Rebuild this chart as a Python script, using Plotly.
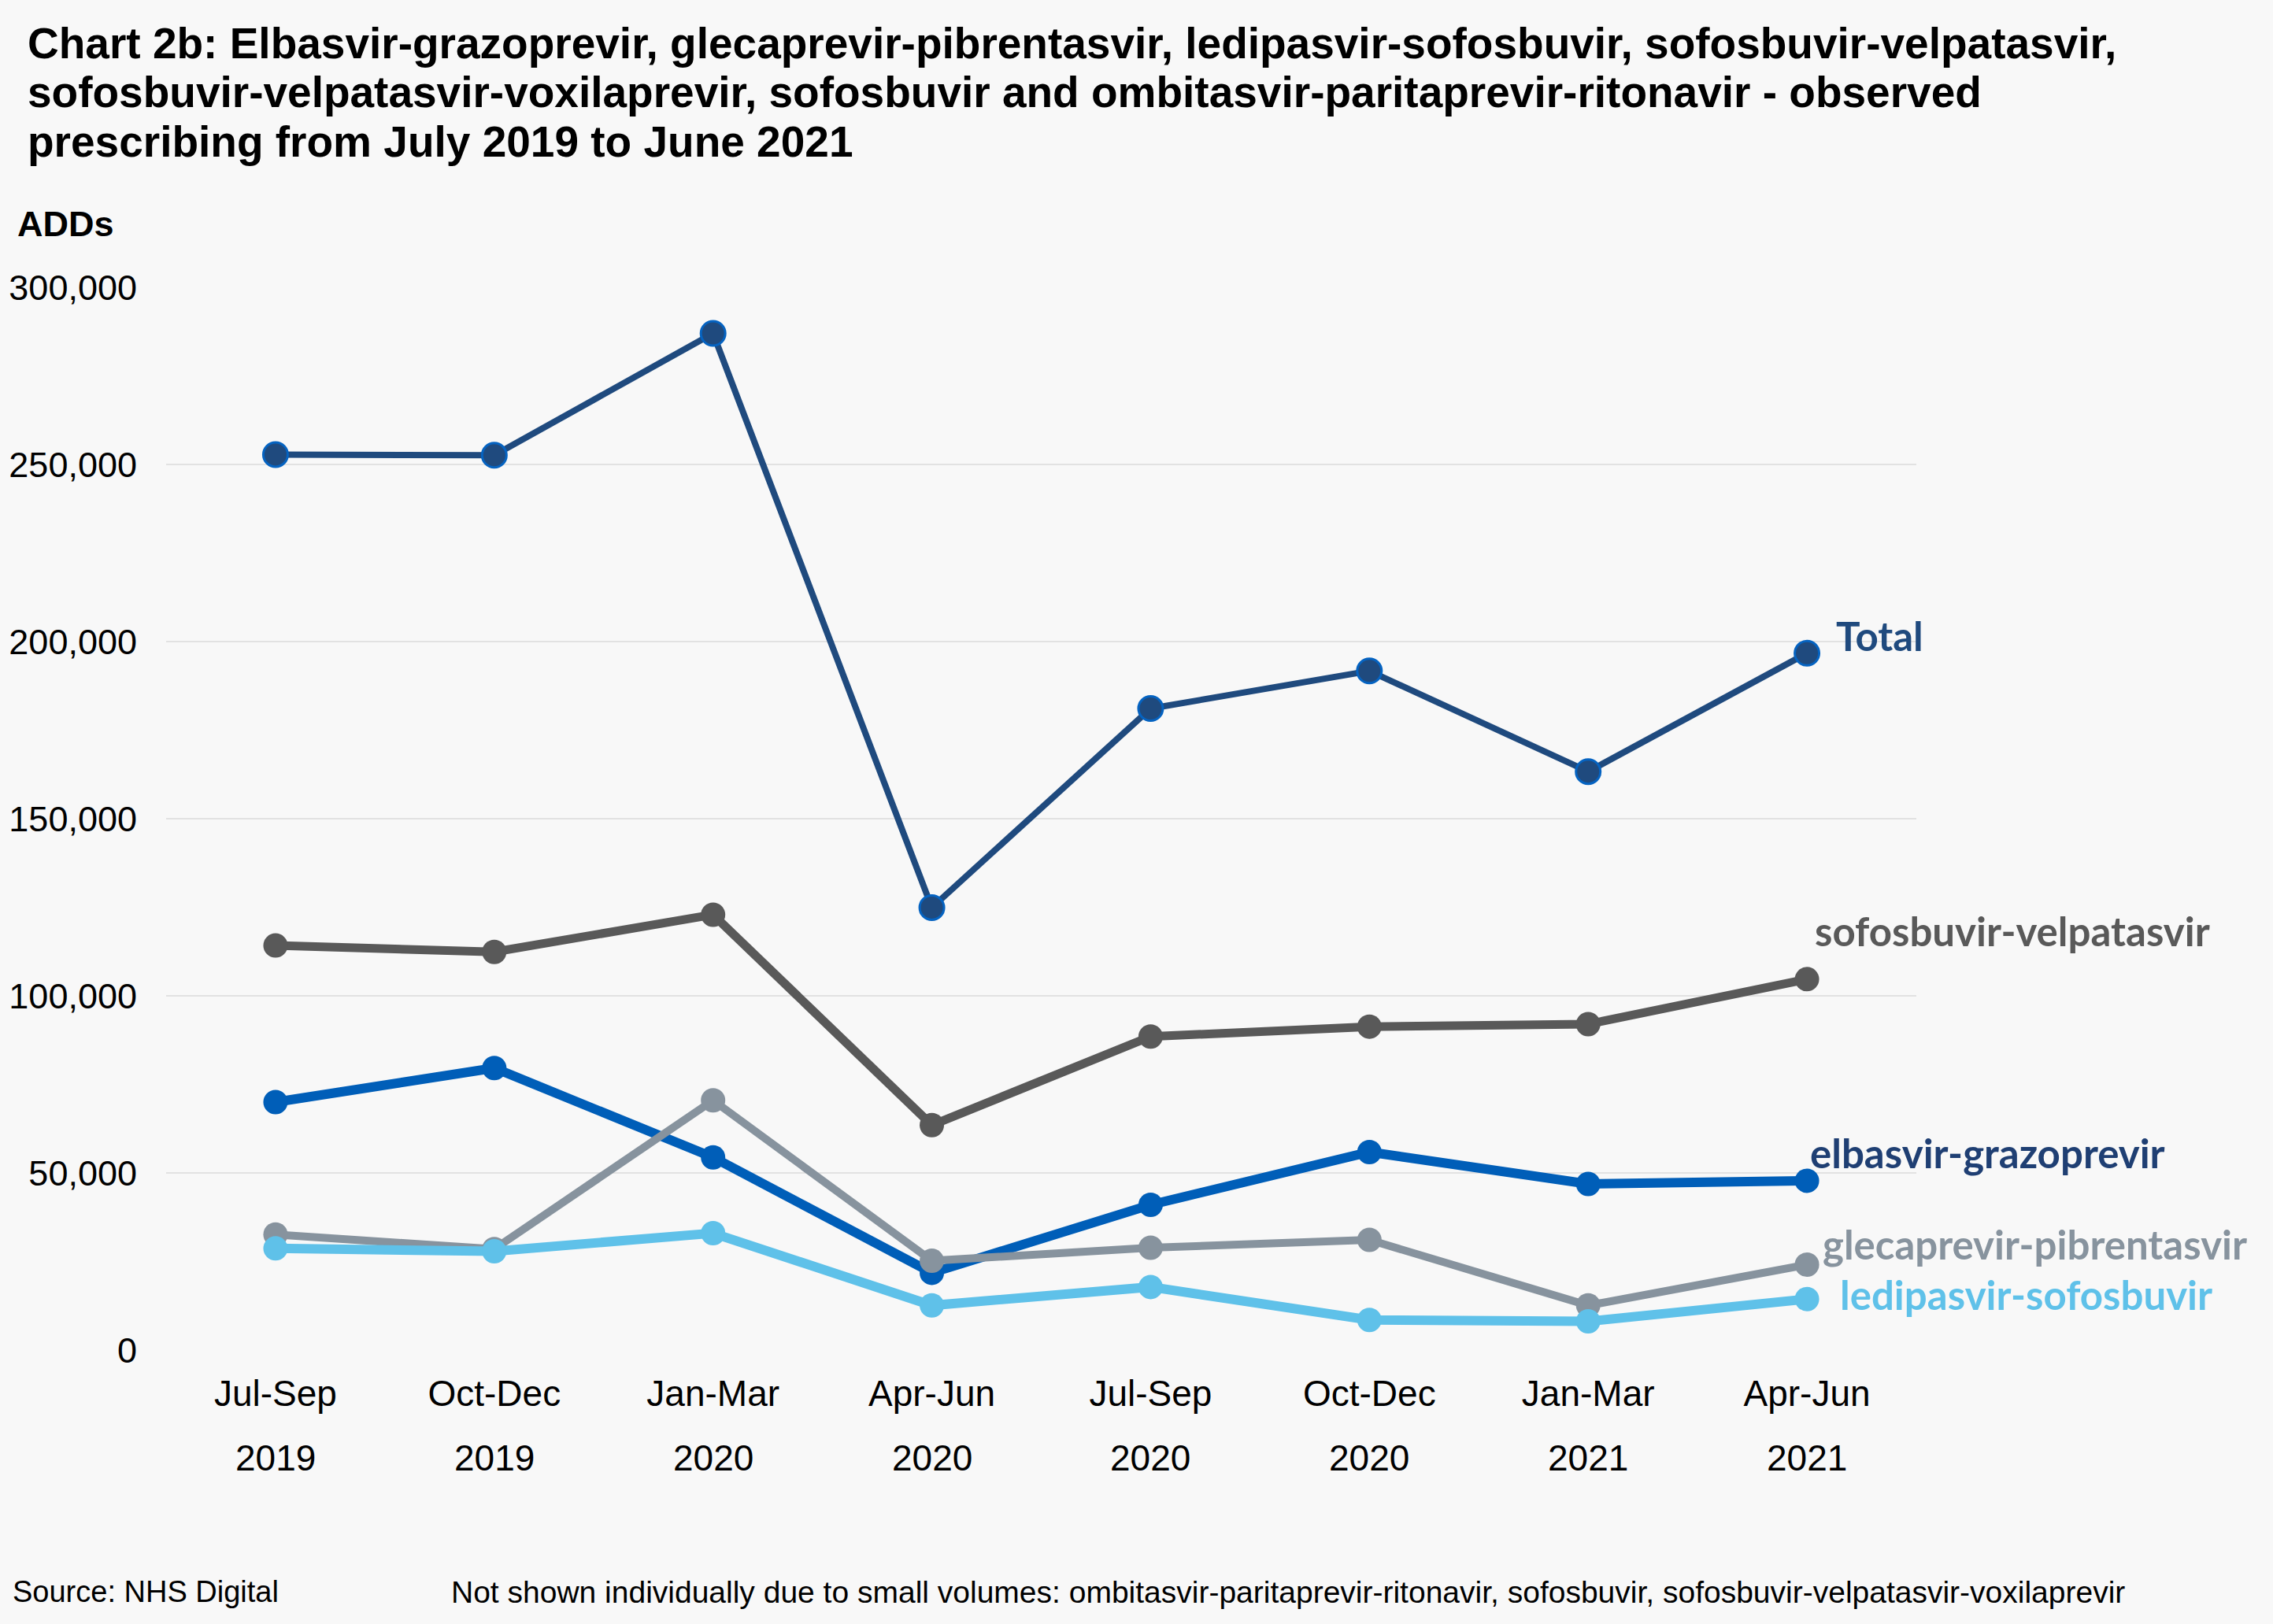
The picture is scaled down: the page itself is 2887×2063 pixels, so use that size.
import plotly.graph_objects as go

quarters = ["Jul-Sep", "Oct-Dec", "Jan-Mar", "Apr-Jun", "Jul-Sep", "Oct-Dec", "Jan-Mar", "Apr-Jun"]
years = ["2019", "2019", "2020", "2020", "2020", "2020", "2021", "2021"]

total = [252800, 252600, 287000, 124900, 181100, 191700, 163300, 196700]
sofosbuvir_velpatasvir = [114200, 112400, 122900, 63500, 88500, 91300, 92000, 104700]
elbasvir_grazoprevir = [70000, 79600, 54400, 21800, 41000, 55900, 46900, 47800]
glecaprevir_pibrentasvir = [32600, 28500, 70500, 25200, 28900, 31100, 12600, 24100]
ledipasvir_sofosbuvir = [28700, 27900, 33000, 12600, 17800, 8500, 8100, 14400]

y_ticks = [0, 50000, 100000, 150000, 200000, 250000, 300000]

title_lines = [
    "Chart 2b: Elbasvir-grazoprevir, glecaprevir-pibrentasvir, ledipasvir-sofosbuvir, sofosbuvir-velpatasvir,",
    "sofosbuvir-velpatasvir-voxilaprevir, sofosbuvir and ombitasvir-paritaprevir-ritonavir - observed",
    "prescribing from July 2019 to June 2021",
]

W, H = 2887, 2063
L, R, T, B = 211, 2434, 365, 1715
PW, PH = R - L, B - T

def px(X):
    return (X - L) / PW

def py(Y):
    return (B - Y) / PH

x = list(range(len(quarters)))

series = [
    ("Total", total, "#1F4A7E", 8, dict(color="#1F4A7E", size=31, line=dict(color="#0563C1", width=3)), "#1F4A7E", 35, 22),
    ("sofosbuvir-velpatasvir", sofosbuvir_velpatasvir, "#595959", 11, dict(color="#595959", size=31), "#595959", 8, 61),
    ("elbasvir-grazoprevir", elbasvir_grazoprevir, "#005EB8", 12, dict(color="#005EB8", size=31), "#1F3F73", 2, 35),
    ("glecaprevir-pibrentasvir", glecaprevir_pibrentasvir, "#87939E", 10, dict(color="#87939E", size=31), "#87939E", 18, 26),
    ("ledipasvir-sofosbuvir", ledipasvir_sofosbuvir, "#5FC1E9", 12, dict(color="#5FC1E9", size=31), "#5FC1E9", 40, 6),
]

fig = go.Figure()
annotations = []
for name, vals, col, lw, mk, lcol, xs, ys in series:
    fig.add_trace(go.Scatter(x=x, y=vals, mode="lines+markers", name=name,
                             line=dict(color=col, width=lw), marker=mk, showlegend=False))
    annotations.append(dict(x=x[-1], y=vals[-1], xref="x", yref="y", text=name,
                            showarrow=False, xanchor="left", yanchor="middle",
                            xshift=xs, yshift=ys,
                            font=dict(family="Lato", size=51, color=lcol, weight="bold")))

for i, yr in enumerate(years):
    annotations.append(dict(x=i, y=0, xref="x", yref="y", text=yr, showarrow=False,
                            xanchor="center", yanchor="middle", yshift=-137,
                            font=dict(family="Liberation Sans, Arial", size=46, color="#000000")))

title_y = [55, 117, 180]
for line, ty in zip(title_lines, title_y):
    annotations.append(dict(x=px(33), y=py(ty), xref="paper", yref="paper", text="<b>" + line + "</b>",
                            showarrow=False, xanchor="left", yanchor="middle",
                            font=dict(family="Liberation Sans, Arial", size=55, color="#000000")))

annotations.append(dict(x=px(20), y=py(285), xref="paper", yref="paper", text="<b>ADDs</b>",
                        showarrow=False, xanchor="left", yanchor="middle",
                        font=dict(family="Liberation Sans, Arial", size=45, color="#000000")))
annotations.append(dict(x=px(14), y=py(2022), xref="paper", yref="paper", text="Source: NHS Digital",
                        showarrow=False, xanchor="left", yanchor="middle",
                        font=dict(family="Liberation Sans, Arial", size=38, color="#000000")))
annotations.append(dict(x=px(571), y=py(2022), xref="paper", yref="paper",
                        text="Not shown individually due to small volumes: ombitasvir-paritaprevir-ritonavir, sofosbuvir, sofosbuvir-velpatasvir-voxilaprevir",
                        showarrow=False, xanchor="left", yanchor="middle",
                        font=dict(family="Liberation Sans, Arial", size=39, color="#000000")))

fig.update_layout(
    width=W, height=H,
    margin=dict(l=L, r=W - R, t=T, b=H - B, pad=0),
    paper_bgcolor="#F8F8F8", plot_bgcolor="#F8F8F8",
    annotations=annotations,
    showlegend=False,
    xaxis=dict(tickmode="array", tickvals=x, ticktext=quarters, range=[-0.5, 7.5],
               showgrid=False, zeroline=False, showline=False, ticks="",
               ticklabelstandoff=24,
               tickfont=dict(family="Liberation Sans, Arial", size=46, color="#000000")),
    yaxis=dict(range=[0, 300000], tickmode="array", tickvals=y_ticks,
               ticktext=[f"{v:,}" for v in y_ticks],
               showgrid=True, gridcolor="#E2E2E2", gridwidth=2, zeroline=False,
               showline=False, ticks="", ticklabelstandoff=36,
               tickfont=dict(family="Liberation Sans, Arial", size=45, color="#000000")),
)

fig.write_html("out.html")
